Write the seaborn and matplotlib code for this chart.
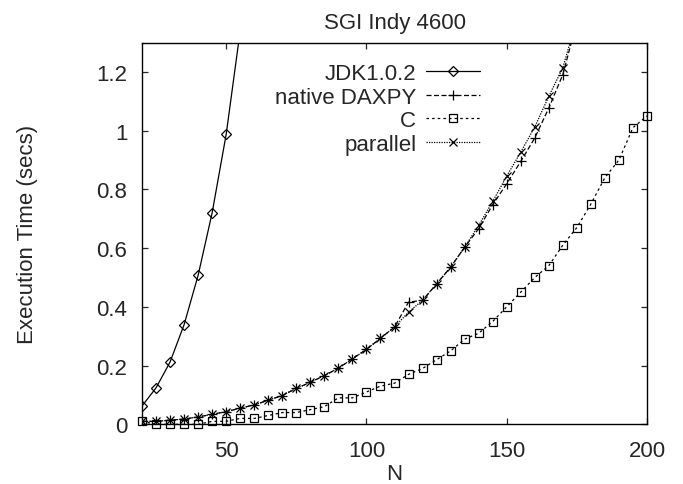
import matplotlib
matplotlib.use("Agg")
import matplotlib.pyplot as plt
import seaborn as sns
import numpy as np

# ---- data ----
n_jdk = [20, 25, 30, 35, 40, 45, 50, 55]
t_jdk = [0.062, 0.124, 0.212, 0.339, 0.507, 0.72, 0.987, 1.34]

n_par = [20, 25, 30, 35, 40, 45, 50, 55, 60, 65, 70, 75, 80, 85, 90, 95, 100,
         105, 110, 115, 120, 125, 130, 135, 140, 145, 150, 155, 160, 165, 170, 175]
t_daxpy = [0.01, 0.01, 0.014, 0.018, 0.025, 0.034, 0.043, 0.055, 0.066, 0.082,
           0.098, 0.122, 0.143, 0.166, 0.191, 0.223, 0.255, 0.293, 0.331, 0.416,
           0.422, 0.478, 0.535, 0.603, 0.666, 0.748, 0.819, 0.895, 0.975, 1.077,
           1.191, 1.37]
t_parallel = [0.01, 0.01, 0.014, 0.018, 0.025, 0.034, 0.043, 0.055, 0.066, 0.082,
              0.098, 0.123, 0.143, 0.166, 0.191, 0.223, 0.255, 0.293, 0.331, 0.382,
              0.422, 0.478, 0.535, 0.603, 0.677, 0.759, 0.845, 0.927, 1.0125, 1.117,
              1.214, 1.38]

n_c = [20, 25, 30, 35, 40, 45, 50, 55, 60, 65, 70, 75, 80, 85, 90, 95, 100, 105,
       110, 115, 120, 125, 130, 135, 140, 145, 150, 155, 160, 165, 170, 175, 180,
       185, 190, 195, 200]
t_c = [0.01, 0.0, 0.0, 0.0, 0.0, 0.01, 0.01, 0.02, 0.02, 0.03, 0.04, 0.04, 0.05,
       0.06, 0.09, 0.09, 0.11, 0.13, 0.14, 0.17, 0.19, 0.22, 0.25, 0.29, 0.31,
       0.35, 0.40, 0.45, 0.50, 0.54, 0.61, 0.67, 0.75, 0.84, 0.90, 1.01, 1.05]

labels = ["JDK1.0.2", "native DAXPY", "C", "parallel"]
x_ticks = [50, 100, 150, 200]
y_ticks = [0, 0.2, 0.4, 0.6, 0.8, 1.0, 1.2]
y_tick_labels = ["0", "0.2", "0.4", "0.6", "0.8", "1", "1.2"]

# ---- style ----
sns.set_style("ticks")
plt.rcParams["font.family"] = ["Liberation Sans", "DejaVu Sans"]
FS = 16

fig = plt.figure(figsize=(6.83, 4.85), dpi=100)
ax = fig.add_axes([0.2079, 0.1231, 0.9473 - 0.2079, 0.9103 - 0.1231])

common = dict(color="black", linewidth=0.9, markeredgewidth=0.9,
              markerfacecolor="none", markeredgecolor="black", ax=ax)

sns.lineplot(x=n_jdk, y=t_jdk, marker="D", markersize=5.2, linestyle="-",
             label=labels[0], **common)
sns.lineplot(x=n_par, y=t_daxpy, marker="+", markersize=6.5, linestyle=(0, (4, 2)),
             label=labels[1], **common)
sns.lineplot(x=n_c, y=t_c, marker="s", markersize=5.8, linestyle=(0, (2, 2.5)),
             label=labels[2], clip_on=False, **common)
sns.lineplot(x=n_par, y=t_parallel, marker="x", markersize=5.5, linestyle=(0, (1, 1)),
             label=labels[3], **common)

ax.set_xlim(20, 200)
ax.set_ylim(0, 1.3)
ax.set_xticks(x_ticks)
ax.set_xticklabels([str(v) for v in x_ticks])
ax.set_yticks(y_ticks)
ax.set_yticklabels(y_tick_labels)
ax.tick_params(axis="both", direction="in", length=4.5, width=0.9, labelsize=FS,
               top=True, right=True)
ax.tick_params(axis="y", pad=10.5)
ax.tick_params(axis="x", pad=11.5)
for s in ax.spines.values():
    s.set_visible(True)
    s.set_linewidth(1.0)
    s.set_color("black")

ax.set_xlabel("N", fontsize=FS, labelpad=1)
ax.set_ylabel("Execution Time (secs)", fontsize=FS, labelpad=42)
ax.set_title("SGI Indy 4600", fontsize=FS, pad=10.5)

leg = ax.legend(loc="upper right", bbox_to_anchor=(0.686, 0.97), frameon=False,
                markerfirst=False, fontsize=FS, labelspacing=0.12,
                handlelength=2.4, handletextpad=0.45, borderaxespad=0)

fig.savefig("out.png", dpi=100)
